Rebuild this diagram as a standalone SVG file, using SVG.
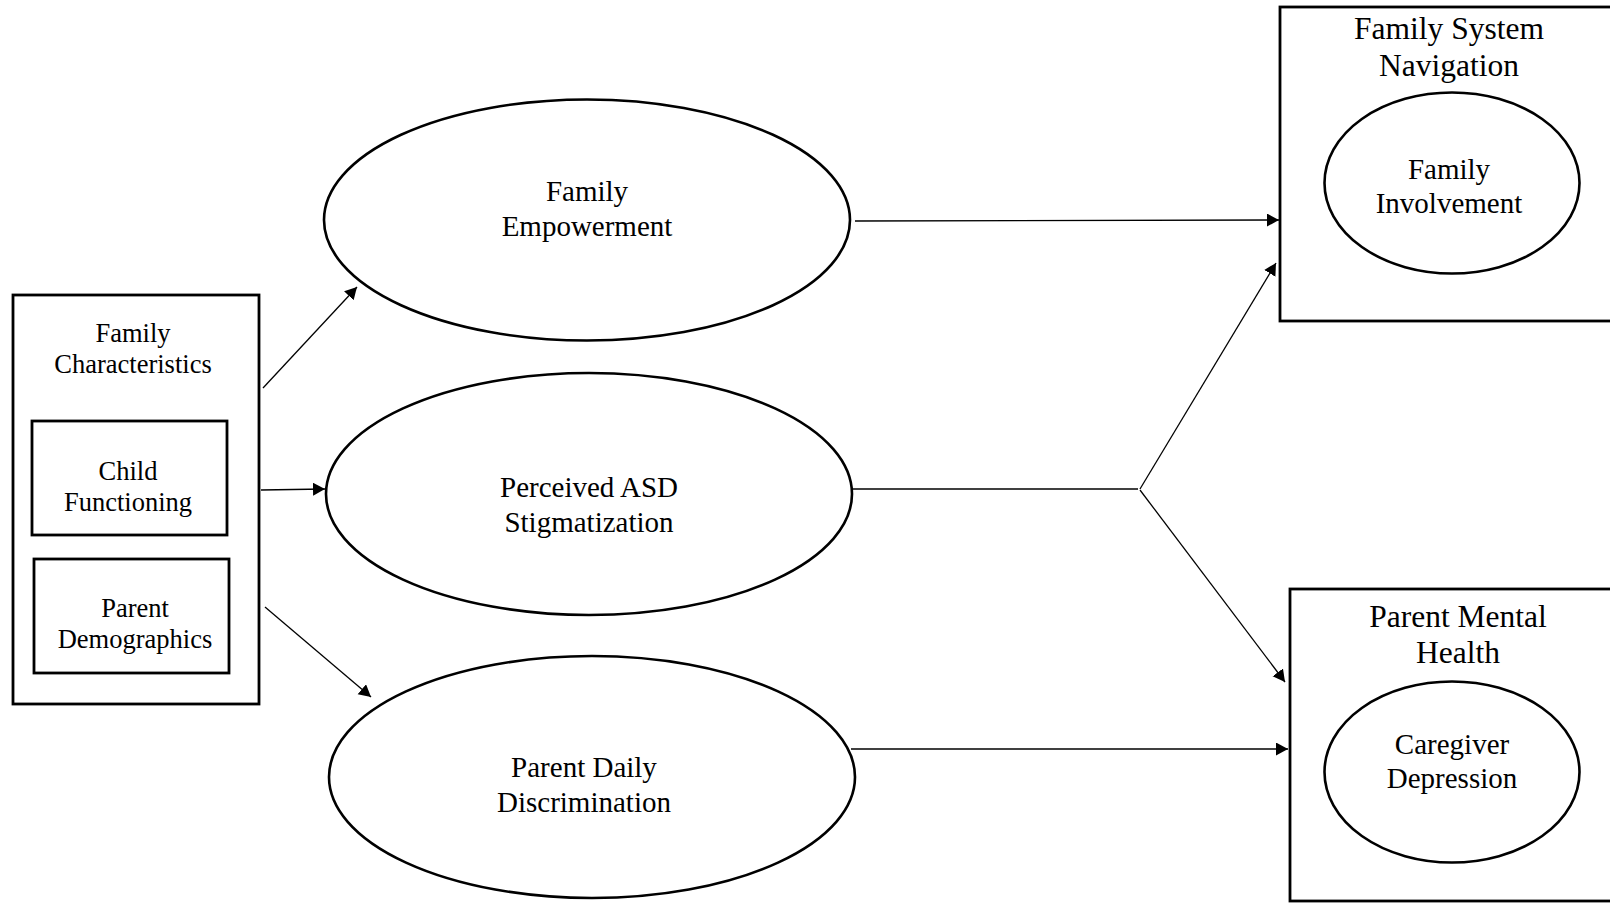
<svg xmlns="http://www.w3.org/2000/svg" width="1610" height="903" viewBox="0 0 1610 903">
<style>
.box{fill:none;stroke:#000;stroke-width:2.8}
.ell{fill:none;stroke:#000;stroke-width:2.6}
.con{fill:none;stroke:#000;stroke-width:1.3}
text{font-family:"Liberation Serif","Times New Roman",serif;fill:#000;text-anchor:middle}
.s26{font-size:26.5px}
.s29{font-size:29px}
.s31{font-size:31.5px}
</style>
<defs>
<marker id="ah" markerUnits="userSpaceOnUse" markerWidth="13" markerHeight="14" refX="12" refY="6.5" orient="auto">
<path d="M0,0 L12,6.5 L0,13 z" fill="#000"/>
</marker>
</defs>
<rect width="1610" height="903" fill="#fff"/>
<g id="family-characteristics">
<rect class="box" x="13" y="295" width="246" height="409"/>
<text class="s26" x="133" y="342">Family</text>
<text class="s26" x="133" y="373">Characteristics</text>
</g>
<g id="child-functioning">
<rect class="box" x="32" y="421" width="195" height="114"/>
<text class="s26" x="128" y="480">Child</text>
<text class="s26" x="128" y="511">Functioning</text>
</g>
<g id="parent-demographics">
<rect class="box" x="34" y="559" width="195" height="114"/>
<text class="s26" x="135" y="617">Parent</text>
<text class="s26" x="135" y="648">Demographics</text>
</g>
<g id="family-empowerment">
<ellipse class="ell" cx="587" cy="220" rx="263" ry="120.5"/>
<text class="s29" x="587" y="201">Family</text>
<text class="s29" x="587" y="236">Empowerment</text>
</g>
<g id="perceived-asd-stigmatization">
<ellipse class="ell" cx="589" cy="494" rx="263" ry="121"/>
<text class="s29" x="589" y="497">Perceived ASD</text>
<text class="s29" x="589" y="532">Stigmatization</text>
</g>
<g id="parent-daily-discrimination">
<ellipse class="ell" cx="592" cy="777" rx="263" ry="121"/>
<text class="s29" x="584" y="777">Parent Daily</text>
<text class="s29" x="584" y="812">Discrimination</text>
</g>
<g id="family-system-navigation">
<rect class="box" x="1280" y="7" width="340" height="314"/>
<text class="s31" x="1449" y="39">Family System</text>
<text class="s31" x="1449" y="76">Navigation</text>
</g>
<g id="family-involvement">
<ellipse class="ell" cx="1452" cy="183" rx="127.5" ry="90.5"/>
<text class="s29" x="1449" y="179">Family</text>
<text class="s29" x="1449" y="213">Involvement</text>
</g>
<g id="parent-mental-health">
<rect class="box" x="1290" y="589" width="330" height="312"/>
<text class="s31" x="1458" y="627">Parent Mental</text>
<text class="s31" x="1458" y="663">Health</text>
</g>
<g id="caregiver-depression">
<ellipse class="ell" cx="1452" cy="772" rx="127.5" ry="90.5"/>
<text class="s29" x="1452" y="754">Caregiver</text>
<text class="s29" x="1452" y="788">Depression</text>
</g>
<g id="connectors">
<line class="con" x1="263" y1="388" x2="357" y2="287" marker-end="url(#ah)"/>
<line class="con" x1="261" y1="490" x2="325" y2="489" marker-end="url(#ah)"/>
<line class="con" x1="265" y1="607" x2="371" y2="697" marker-end="url(#ah)"/>
<line class="con" x1="855" y1="221" x2="1279" y2="220" marker-end="url(#ah)"/>
<line class="con" x1="853" y1="489" x2="1138" y2="489"/>
<line class="con" x1="1140" y1="489" x2="1276" y2="263" marker-end="url(#ah)"/>
<line class="con" x1="1140" y1="490" x2="1285" y2="682" marker-end="url(#ah)"/>
<line class="con" x1="851" y1="749" x2="1288" y2="749" marker-end="url(#ah)"/>
</g>
</svg>
